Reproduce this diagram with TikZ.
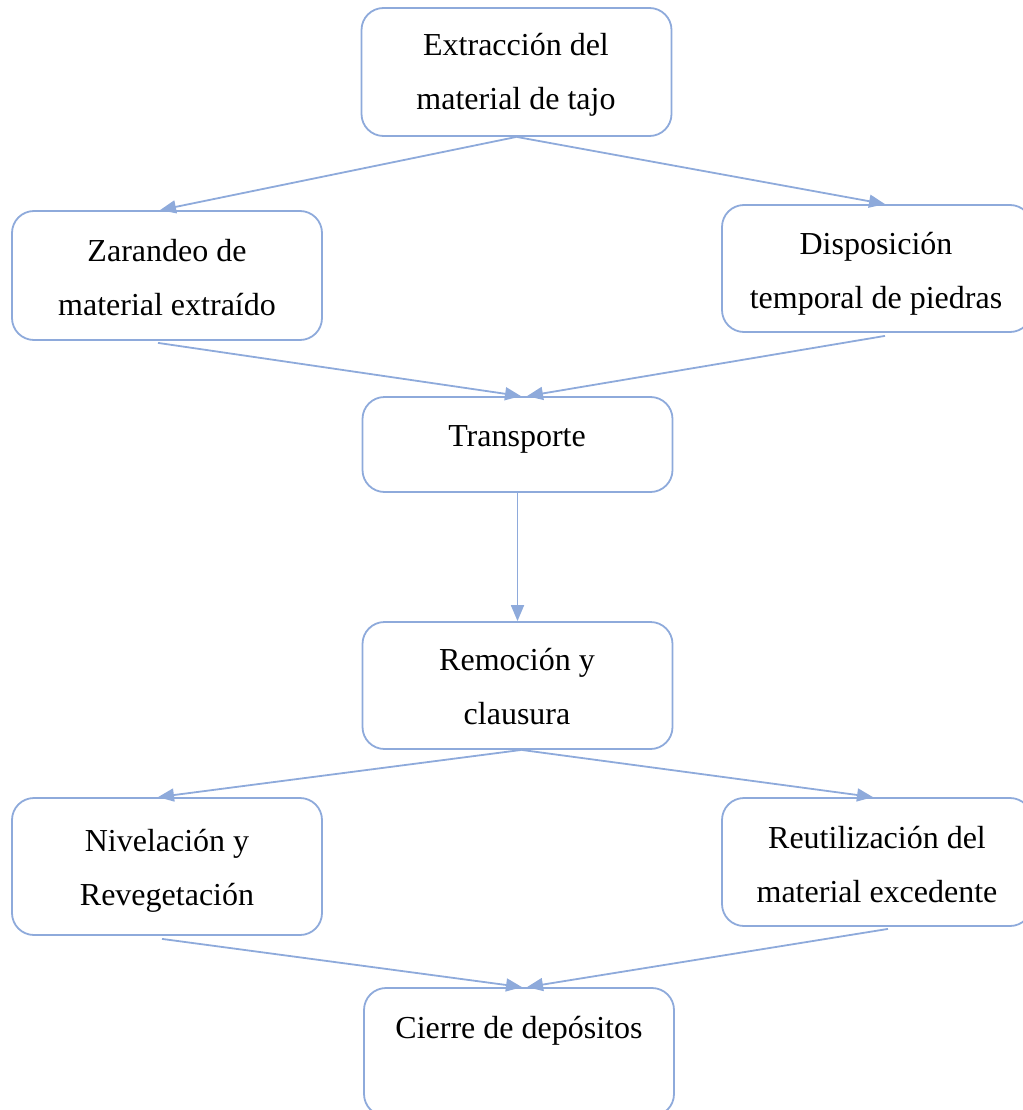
\documentclass[tikz,border=0pt]{standalone}
\usepackage{fontspec}
\setmainfont{Liberation Serif}
\usetikzlibrary{arrows.meta}
\definecolor{edge}{HTML}{8EAADB}
\tikzset{
  box/.style={draw=edge, line width=1.8pt, rounded corners=22pt, inner sep=0pt, minimum width=310pt},
  lbl/.style={align=center, inner sep=0pt, font=\fontsize{32}{54}\selectfont},
  conn/.style={draw=edge, line width=1.8pt, -{Triangle[length=16pt,width=13pt]}}
}
\begin{document}
\begin{tikzpicture}[x=1pt,y=-1pt]
\useasboundingbox (0,0) rectangle (1022,1110);
\node[box, minimum height=128pt] (A) at (516.5,72) {};
\node[box, minimum height=129pt] (B) at (167,275.5) {};
\node[box, minimum height=127pt] (C) at (877,268.5) {};
\node[box, minimum height=95pt] (D) at (517.5,444.5) {};
\node[box, minimum height=127pt] (E) at (517.5,685.5) {};
\node[box, minimum height=137pt] (F) at (167,866.5) {};
\node[box, minimum height=128pt] (G) at (877,862) {};
\node[box, minimum height=128pt] (H) at (519,1052) {};

\node[lbl] (tA) at (516,75) {Extracción del\\material de tajo};
\node[lbl] (tB) at (167,277.5) {Zarandeo de\\material extraído};
\node[lbl] (tC) at (876,273.5) {Disposición\\temporal de piedras};
\node[lbl] (tD) at (517,439) {Transporte};
\node[lbl] (tE) at (517,687) {Remoción y\\clausura};
\node[lbl] (tF) at (167,871) {Nivelación y\\Revegetación};
\node[lbl] (tG) at (877,865) {Reutilización del\\material excedente};
\node[lbl] (tH) at (519,1031) {Cierre de depósitos};

\draw[conn] (A.south) -- ([xshift=-7pt]B.north);
\draw[conn] (A.south) -- ([xshift=8pt]C.north);
\draw[conn] ([xshift=-9pt,yshift=-2pt]B.south) -- ([xshift=3.5pt]D.north);
\draw[conn] ([xshift=8pt,yshift=-3pt]C.south) -- ([xshift=9.5pt]D.north);
\draw[conn] (D.south) -- (E.north);
\draw[conn] ([xshift=4pt]E.south) -- ([xshift=-9pt]F.north);
\draw[conn] ([xshift=4pt]E.south) -- ([xshift=-4pt]G.north);
\draw[conn] ([xshift=-5pt,yshift=-3pt]F.south) -- ([xshift=3pt]H.north);
\draw[conn] ([xshift=11pt,yshift=-2pt]G.south) -- ([xshift=8pt]H.north);
\end{tikzpicture}
\end{document}
